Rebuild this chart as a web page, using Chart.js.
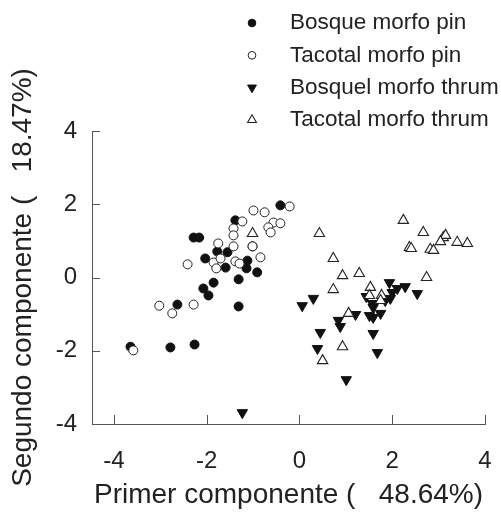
<!DOCTYPE html>
<html>
<head>
<meta charset="utf-8">
<script src="https://cdn.jsdelivr.net/npm/chart.js@4"></script>
<style>
  html, body { margin: 0; padding: 0; background: #ffffff; }
  #c { display: block; }
</style>
</head>
<body>
<canvas id="c" width="501" height="515"></canvas>
<script>
// ---- data ----
const seriesLabels = ["Bosque morfo pin", "Tacotal morfo pin", "Bosquel morfo thrum", "Tacotal morfo thrum"];

const bosquePinX = [-0.41, -1.38, -2.28, -2.16, -1.01, -1.77, -1.55, -2.03, -1.12, -1.59, -1.14, -0.91, -1.85, -1.31, -2.07, -1.96, -2.63, -1.31, -3.64, -2.78, -2.26];
const bosquePinY = [1.97, 1.56, 1.09, 1.09, 0.85, 0.71, 0.69, 0.52, 0.46, 0.27, 0.25, 0.14, -0.14, -0.05, -0.30, -0.49, -0.74, -0.79, -1.89, -1.91, -1.83];

const tacotalPinX = [-0.21, -0.99, -0.75, -1.23, -1.42, -1.42, -0.56, -0.41, -0.67, -0.62, -1.75, -1.42, -1.01, -0.84, -1.85, -1.70, -1.38, -1.29, -1.79, -2.41, -3.02, -2.74, -2.28, -3.58];
const tacotalPinY = [1.94, 1.83, 1.78, 1.53, 1.34, 1.15, 1.50, 1.48, 1.37, 1.23, 0.93, 0.85, 0.85, 0.55, 0.41, 0.52, 0.44, 0.38, 0.25, 0.36, -0.77, -0.98, -0.74, -1.99];

const bosquelThrumX = [0.06, 0.30, 0.45, 0.39, 0.84, 0.88, 1.21, 1.01, 1.51, 1.59, 1.75, 1.59, 1.68, 1.94, 2.11, 2.28, 2.00, 1.96, 1.85, 2.54, 1.44, 1.57, 1.59, -1.23];
const bosquelThrumY = [-0.77, -0.57, -1.50, -1.94, -1.17, -1.34, -1.01, -2.79, -1.04, -1.09, -0.98, -1.53, -2.05, -0.14, -0.30, -0.25, -0.41, -0.57, -0.63, -0.44, -0.52, -0.71, -0.82, -3.69];

const tacotalThrumX = [-1.01, 2.24, 0.43, 2.67, 3.10, 3.15, 3.04, 3.40, 3.62, 2.37, 2.41, 2.82, 2.89, 0.73, 0.93, 1.29, 2.74, 0.73, 1.53, 1.51, 1.77, 1.75, 1.06, 0.93, 0.50];
const tacotalThrumY = [1.20, 1.56, 1.20, 1.23, 1.09, 1.15, 0.98, 0.96, 0.93, 0.82, 0.79, 0.77, 0.74, 0.52, 0.05, 0.11, 0.00, -0.33, -0.27, -0.49, -0.49, -0.63, -0.98, -1.89, -2.27];

const xTickValues = [-4, -2, 0, 2, 4];
const yTickValues = [-4, -2, 0, 2, 4];
const xTitle = "Primer componente (   48.64%)";
const yTitle = "Segundo componente (   18.47%)";

// ---- helpers ----
const pts = (xs, ys) => xs.map((x, i) => ({ x: x, y: ys[i] }));
const FONT = "'Liberation Sans', Arial, Helvetica, sans-serif";
const AXIS_COLOR = "#555555";
const TEXT_COLOR = "#222222";

// inward tick marks drawn from the scales' own ticks
const innerTicks = {
  id: "innerTicks",
  beforeDatasetsDraw(chart) {
    const { ctx, chartArea: a, scales } = chart;
    ctx.save();
    ctx.strokeStyle = AXIS_COLOR;
    ctx.lineWidth = 1;
    scales.x.ticks.forEach(t => {
      const px = Math.round(scales.x.getPixelForValue(t.value)) + 0.5;
      ctx.beginPath(); ctx.moveTo(px, a.bottom); ctx.lineTo(px, a.bottom - 9); ctx.stroke();
    });
    scales.y.ticks.forEach(t => {
      const py = Math.round(scales.y.getPixelForValue(t.value)) + 0.5;
      ctx.beginPath(); ctx.moveTo(a.left, py); ctx.lineTo(a.left + 8, py); ctx.stroke();
    });
    ctx.restore();
  }
};

// single-column legend at the top right
const columnLegend = {
  id: "columnLegend",
  afterDraw(chart) {
    const ctx = chart.ctx;
    const opts = chart.options.plugins.columnLegend;
    ctx.save();
    chart.data.datasets.forEach((ds, i) => {
      const y = opts.top + i * opts.row;
      ctx.fillStyle = ds.backgroundColor;
      ctx.strokeStyle = ds.borderColor;
      ctx.lineWidth = ds.borderWidth;
      Chart.helpers.drawPoint(ctx, {
        pointStyle: ds.pointStyle,
        rotation: ds.rotation || 0,
        radius: ds.pointRadius * opts.markerScale,
        borderWidth: ds.borderWidth
      }, opts.markerX, y);
      ctx.fillStyle = TEXT_COLOR;
      ctx.font = opts.fontSize + "px " + FONT;
      ctx.textAlign = "left";
      ctx.textBaseline = "middle";
      ctx.fillText(ds.label, opts.textX, y);
    });
    ctx.restore();
  }
};

const chart = new Chart(document.getElementById("c"), {
  type: "scatter",
  data: {
    datasets: [
      { label: seriesLabels[0], data: pts(bosquePinX, bosquePinY), pointStyle: "circle", pointRadius: 4.5,
        backgroundColor: "#111111", borderColor: "#111111", borderWidth: 1, order: 4 },
      { label: seriesLabels[1], data: pts(tacotalPinX, tacotalPinY), pointStyle: "circle", pointRadius: 4.5,
        backgroundColor: "#ffffff", borderColor: "#222222", borderWidth: 1, order: 3 },
      { label: seriesLabels[2], data: pts(bosquelThrumX, bosquelThrumY), pointStyle: "triangle", rotation: 180, pointRadius: 6,
        backgroundColor: "#111111", borderColor: "#111111", borderWidth: 1, order: 2 },
      { label: seriesLabels[3], data: pts(tacotalThrumX, tacotalThrumY), pointStyle: "triangle", pointRadius: 6,
        backgroundColor: "#ffffff", borderColor: "#222222", borderWidth: 1.1, order: 1 }
    ]
  },
  options: {
    responsive: false,
    animation: false,
    events: [],
    layout: { padding: { top: 131, right: 16, left: 0, bottom: 0 } },
    plugins: {
      legend: { display: false },
      tooltip: { enabled: false },
      columnLegend: { top: 23, row: 32.3, markerX: 252, textX: 290, fontSize: 22.5, markerScale: 0.85 }
    },
    scales: {
      x: {
        type: "linear",
        min: -4.47,
        max: 4,
        afterBuildTicks: s => { s.ticks = xTickValues.map(v => ({ value: v })); },
        afterFit: s => { s.height = 91; s.paddingLeft = 0; s.paddingRight = 0; },
        grid: { display: false, drawTicks: false },
        border: { display: true, color: AXIS_COLOR, width: 1 },
        ticks: { color: TEXT_COLOR, font: { family: FONT, size: 24 }, padding: 23, maxRotation: 0 },
        title: { display: true, text: xTitle, color: TEXT_COLOR, font: { family: FONT, size: 28 }, padding: { top: 0, bottom: 3 } }
      },
      y: {
        type: "linear",
        min: -4,
        max: 4,
        afterBuildTicks: s => { s.ticks = yTickValues.map(v => ({ value: v })); },
        afterFit: s => { s.width = 92; s.paddingTop = 0; s.paddingBottom = 0; },
        grid: { display: false, drawTicks: false },
        border: { display: true, color: AXIS_COLOR, width: 1 },
        ticks: { color: TEXT_COLOR, font: { family: FONT, size: 24 }, padding: 15 },
        title: { display: true, text: yTitle, color: TEXT_COLOR, font: { family: FONT, size: 28 }, padding: { top: 6, bottom: 0 } }
      }
    }
  },
  plugins: [innerTicks, columnLegend]
});
</script>
</body>
</html>
